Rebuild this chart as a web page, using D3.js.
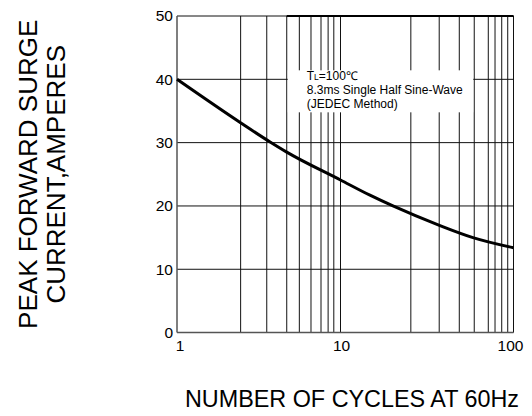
<!DOCTYPE html>
<html>
<head>
<meta charset="utf-8">
<script src="https://cdn.jsdelivr.net/npm/d3@7"></script>
<style>
  body { margin: 0; background: #fff; }
  text { font-family: "Liberation Sans", Arial, sans-serif; fill: #000; }
</style>
</head>
<body>
<div id="chart-area"></div>
<script>
// data
var cycles  = [1, 2.46, 3.71, 4.69, 10, 14.8, 20.1, 37.6, 58.3, 100];
var current = [40, 33.1, 30.1, 28.5, 24.1, 21.7, 20.0, 16.9, 15.0, 13.4];

var xTicks = [1, 10, 100];
var yTicks = [0, 10, 20, 30, 40, 50];
// vertical grid lines as drawn in the original (not exact log steps)
var xGrid = [2.45, 3.54, 4.69, 5.6, 6.6, 7.6, 8.4, 9.1, 10,
             25.5, 37.2, 48.6, 59.3, 71.5, 78.2, 85.5, 92.6, 100];
var yGrid = [10, 20, 30, 40, 50];

var noteLines = ["8.3ms Single Half Sine-Wave", "(JEDEC Method)"];
var noteWidths = [156, 91];

var W = 532, H = 416;
var margin = { left: 177, right: 18.5, top: 16, bottom: 83.4 };
var width = W - margin.left - margin.right,
    height = H - margin.top - margin.bottom;

var svg = d3.select("#chart-area").append("svg")
    .attr("width", W)
    .attr("height", H);

var g = svg.append("g")
    .attr("transform", "translate(" + margin.left + "," + margin.top + ")");

// Scales (the decades in the picture are not quite equal)
var x = d3.scaleLog()
    .domain([1, 10, 100])
    .range([0, 163.5, width]);
var y = d3.scaleLinear()
    .domain([0, 50])
    .range([height, 0]);

// Grid
g.selectAll(".vgrid").data(xGrid).enter().append("line")
    .attr("class", "vgrid")
    .attr("x1", function(d){ return x(d); })
    .attr("x2", function(d){ return x(d); })
    .attr("y1", 0)
    .attr("y2", height)
    .attr("stroke", "#111")
    .attr("stroke-width", 1);

g.selectAll(".hgrid").data(yGrid).enter().append("line")
    .attr("class", "hgrid")
    .attr("x1", 0)
    .attr("x2", width)
    .attr("y1", function(d){ return y(d); })
    .attr("y2", function(d){ return y(d); })
    .attr("stroke", "#111")
    .attr("stroke-width", 1);

// top border is heavier right of the first few lines
g.append("line")
    .attr("x1", x(4.69)).attr("x2", width).attr("y1", y(50)).attr("y2", y(50))
    .attr("stroke", "#000").attr("stroke-width", 1.8);

// Frame (left + bottom)
g.append("line")
    .attr("x1", 0).attr("x2", 0).attr("y1", 0).attr("y2", height)
    .attr("stroke", "#555").attr("stroke-width", 1.5);
g.append("line")
    .attr("x1", 0).attr("x2", width).attr("y1", height).attr("y2", height)
    .attr("stroke", "#555").attr("stroke-width", 1.5);

// Note box covers the grid behind it
var note = g.append("g");
note.append("rect")
    .attr("x", x(4.69) + 1)
    .attr("y", y(40) - 9)
    .attr("width", x(59.3) - x(4.69) - 2)
    .attr("height", 42)
    .attr("fill", "#fff");

var noteX = x(4.69) + 20;
var t1 = note.append("text")
    .attr("x", noteX)
    .attr("y", y(40) + 1)
    .attr("font-size", "12px");
t1.append("tspan").text("T");
t1.append("tspan").attr("font-size", "8.5px").text("L");
t1.append("tspan").text("=100\u2103");

note.selectAll(".note").data(noteLines).enter().append("text")
    .attr("class", "note")
    .attr("x", noteX)
    .attr("y", function(d, i){ return y(40) + 14.5 + i * 14; })
    .attr("font-size", "12px")
    .attr("textLength", function(d, i){ return noteWidths[i]; })
    .attr("lengthAdjust", "spacingAndGlyphs")
    .text(function(d){ return d; });

// Curve
var pts = cycles.map(function(c, i){ return [c, current[i]]; });
var line = d3.line()
    .x(function(d){ return x(d[0]); })
    .y(function(d){ return y(d[1]); })
    .curve(d3.curveMonotoneX);
g.append("path")
    .datum(pts)
    .attr("d", line)
    .attr("fill", "none")
    .attr("stroke", "#000")
    .attr("stroke-width", 3);

// Tick labels
g.selectAll(".ylab").data(yTicks).enter().append("text")
    .attr("class", "ylab")
    .attr("x", -4)
    .attr("y", function(d){ return y(d); })
    .attr("dy", "0.35em")
    .attr("text-anchor", "end")
    .attr("font-size", "15.5px")
    .text(function(d){ return d; });

g.selectAll(".xlab").data(xTicks).enter().append("text")
    .attr("class", "xlab")
    .attr("x", function(d){ return x(d) + (d === 1 ? 3 : d === 100 ? -3 : 1); })
    .attr("y", height + 18.5)
    .attr("text-anchor", "middle")
    .attr("font-size", "15.5px")
    .text(function(d){ return d; });

// Axis titles
svg.append("text")
    .attr("x", 185)
    .attr("y", 407)
    .attr("font-size", "24px")
    .attr("textLength", 334)
    .attr("lengthAdjust", "spacingAndGlyphs")
    .text("NUMBER  OF  CYCLES AT 60Hz");

var yTitle = ["PEAK FORWARD SURGE", "CURRENT,AMPERES"];
svg.selectAll(".ytitle").data(yTitle).enter().append("text")
    .attr("class", "ytitle")
    .attr("transform", function(d, i){
        return "translate(" + (37 + i * 28) + "," + (margin.top + height / 2) + ") rotate(-90)";
    })
    .attr("text-anchor", "middle")
    .attr("font-size", "26px")
    .text(function(d){ return d; });
</script>
</body>
</html>
